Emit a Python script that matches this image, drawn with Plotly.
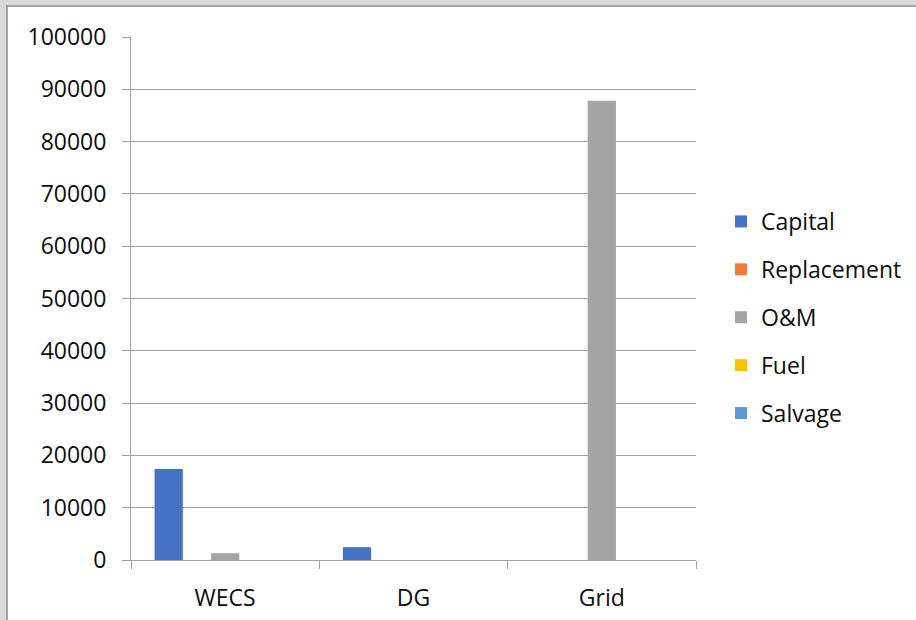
import plotly.graph_objects as go

categories = ["WECS", "DG", "Grid"]
series_names = ["Capital", "Replacement", "O&M", "Fuel", "Salvage"]
capital = [17400, 2450, 0]
replacement = [0, 0, 0]
om = [1300, 0, 87800]
fuel = [0, 0, 0]
salvage = [0, 0, 0]
colors = ["#4472C4", "#ED7D31", "#A5A5A5", "#FFC000", "#5B9BD5"]
y_ticks = [0, 10000, 20000, 30000, 40000, 50000, 60000, 70000, 80000, 90000, 100000]

FONT = "Open Sans, sans-serif"
TXT = "#0d0d0d"
values = [capital, replacement, om, fuel, salvage]

fig = go.Figure()
for name, vals, col in zip(series_names, values, colors):
    fig.add_trace(go.Bar(x=categories, y=vals, name=name, marker=dict(color=col, line=dict(width=0)),
                         legendgroup=name))

W, H = 916, 620
L, R, T, B = 131, 696, 37, 560
pw, ph = R - L, B - T


def px_rect(x0, x1, y0, y1, color):
    return dict(type="rect", xref="paper", yref="paper",
                x0=(x0 - L) / pw, x1=(x1 - L) / pw,
                y0=(B - y1) / ph, y1=(B - y0) / ph,
                fillcolor=color, line=dict(width=0), layer="below")


frame = [
    px_rect(0, 6, 0, H, "#d9d9d9"),
    px_rect(0, W, 0, 5, "#d9d9d9"),
    px_rect(6, 8, 5, H, "#a3a3a3"),
    px_rect(6, W, 5, 7, "#a3a3a3"),
]

fig.update_layout(
    width=W, height=H,
    margin=dict(l=L, r=W - R, t=T, b=H - B, pad=0, autoexpand=False),
    paper_bgcolor="white",
    plot_bgcolor="rgba(0,0,0,0)",
    barmode="group", bargap=0.25, bargroupgap=0,
    font=dict(family=FONT, size=23, color=TXT),
    showlegend=True,
    legend=dict(xref="container", yref="container",
                x=721 / W, xanchor="left", y=(H - 317.5) / H, yanchor="middle",
                font=dict(family=FONT, size=23, color=TXT),
                tracegroupgap=15, bgcolor="rgba(0,0,0,0)"),
    shapes=frame,
)
fig.update_xaxes(type="category", showline=True, linecolor="#a0a0a0", linewidth=1,
                 ticks="outside", tickson="boundaries", ticklen=8, tickcolor="#a0a0a0",
                 showgrid=False, ticklabelstandoff=17, automargin=False,
                 tickfont=dict(family=FONT, size=23, color=TXT))
fig.update_yaxes(range=[0, 100000], tickvals=y_ticks, ticktext=[str(v) for v in y_ticks],
                 showline=True, linecolor="#a0a0a0", linewidth=1,
                 ticks="outside", ticklen=8, tickcolor="#a0a0a0",
                 showgrid=True, gridcolor="#a0a0a0", gridwidth=1, zeroline=False,
                 ticklabelstandoff=11, automargin=False,
                 tickfont=dict(family=FONT, size=23, color=TXT))

fig.write_html("out.html", config={"displayModeBar": False},
               post_script="document.body.style.margin='0px';")
